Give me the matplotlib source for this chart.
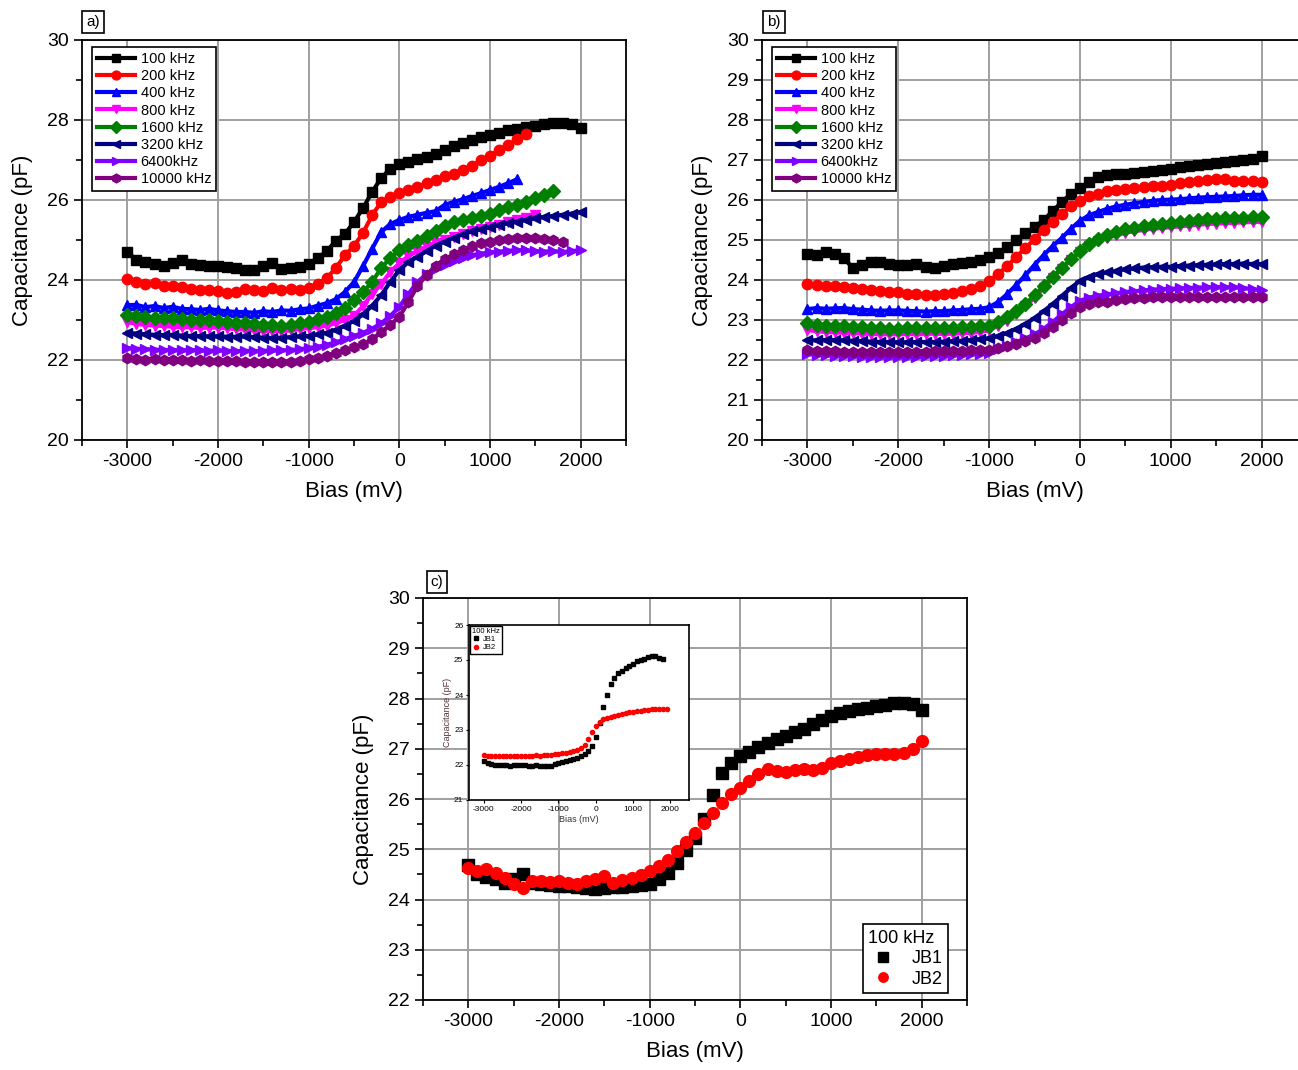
import numpy as np
import matplotlib
matplotlib.use("Agg")
import matplotlib.pyplot as plt
from matplotlib.ticker import MultipleLocator

plt.rcParams['font.family'] = ['Liberation Sans', 'DejaVu Sans']
plt.rcParams['axes.unicode_minus'] = False

# bias sweep, mV
bias = np.arange(-3000, 2001, 100)

freq_labels = ["100 kHz", "200 kHz", "400 kHz", "800 kHz",
               "1600 kHz", "3200 kHz", "6400kHz", "10000 kHz"]
colors = ["#000000", "#ff0000", "#0000ff", "#ff00ff",
          "#008000", "#000080", "#8000ff", "#800080"]
markers = ["s", "o", "^", "v", "D", "<", ">", "h"]

# ---- sample a), capacitance in pF ----
a_100 = [24.70, 24.50, 24.45, 24.40, 24.36, 24.42, 24.50, 24.40, 24.38, 24.36,
         24.36, 24.33, 24.30, 24.26, 24.24, 24.34, 24.42, 24.28, 24.30, 24.33,
         24.40, 24.55, 24.72, 24.98, 25.15, 25.45, 25.80, 26.20, 26.55, 26.78,
         26.90, 26.96, 27.02, 27.08, 27.16, 27.26, 27.34, 27.42, 27.50, 27.58,
         27.63, 27.68, 27.75, 27.78, 27.83, 27.86, 27.90, 27.92, 27.93, 27.90,
         27.80]
a_200 = [24.03, 23.95, 23.90, 23.92, 23.86, 23.85, 23.83, 23.78, 23.76, 23.74,
         23.72, 23.68, 23.70, 23.77, 23.74, 23.72, 23.81, 23.76, 23.77, 23.74,
         23.80, 23.90, 24.05, 24.30, 24.62, 24.85, 25.18, 25.62, 25.95, 26.08,
         26.17, 26.24, 26.33, 26.42, 26.50, 26.60, 26.66, 26.76, 26.85, 27.00,
         27.10, 27.25, 27.38, 27.52, 27.65]
a_400 = [23.37, 23.38, 23.32, 23.35, 23.30, 23.33, 23.28, 23.27, 23.25, 23.28,
         23.24, 23.22, 23.20, 23.20, 23.18, 23.22, 23.20, 23.24, 23.23, 23.27,
         23.29, 23.36, 23.42, 23.52, 23.70, 23.95, 24.35, 24.78, 25.20, 25.40,
         25.50, 25.58, 25.63, 25.68, 25.72, 25.88, 25.95, 26.02, 26.10, 26.17,
         26.25, 26.33, 26.42, 26.52]
a_800 = [22.95, 22.90, 22.88, 22.86, 22.85, 22.83, 22.82, 22.82, 22.80, 22.81,
         22.81, 22.79, 22.77, 22.76, 22.74, 22.72, 22.73, 22.72, 22.74, 22.77,
         22.80, 22.82, 22.86, 22.92, 23.00, 23.10, 23.35, 23.65, 23.90, 24.20,
         24.42, 24.60, 24.72, 24.82, 24.92, 25.00, 25.08, 25.16, 25.22, 25.27,
         25.32, 25.38, 25.44, 25.50, 25.56, 25.62]
a_1600 = [23.12, 23.10, 23.08, 23.06, 23.04, 23.05, 23.02, 23.00, 22.99, 23.00,
          22.98, 22.96, 22.93, 22.92, 22.90, 22.88, 22.87, 22.86, 22.88, 22.92,
          22.96, 23.02, 23.07, 23.18, 23.30, 23.50, 23.70, 23.95, 24.30, 24.55,
          24.75, 24.88, 24.98, 25.10, 25.22, 25.35, 25.45, 25.50, 25.56, 25.60,
          25.65, 25.74, 25.82, 25.88, 25.95, 26.04, 26.12, 26.22]
a_3200 = [22.68, 22.66, 22.64, 22.63, 22.62, 22.63, 22.61, 22.60, 22.60, 22.59,
          22.59, 22.58, 22.58, 22.59, 22.57, 22.56, 22.55, 22.56, 22.57, 22.59,
          22.60, 22.64, 22.68, 22.76, 22.86, 22.98, 23.14, 23.36, 23.62, 23.95,
          24.25, 24.45, 24.58, 24.72, 24.86, 24.96, 25.06, 25.14, 25.22, 25.27,
          25.32, 25.38, 25.42, 25.46, 25.50, 25.54, 25.58, 25.60, 25.63, 25.66,
          25.70]
a_6400 = [22.30, 22.28, 22.27, 22.26, 22.25, 22.25, 22.24, 22.25, 22.24, 22.23,
          22.24, 22.23, 22.22, 22.23, 22.22, 22.23, 22.24, 22.24, 22.25, 22.27,
          22.30, 22.33, 22.38, 22.44, 22.52, 22.60, 22.68, 22.78, 22.92, 23.10,
          23.33, 23.65, 23.95, 24.15, 24.28, 24.38, 24.48, 24.56, 24.62, 24.66,
          24.69, 24.71, 24.73, 24.75, 24.74, 24.72, 24.71, 24.72, 24.70, 24.72,
          24.75]
a_10000 = [22.04, 22.02, 22.01, 22.02, 22.00, 21.99, 22.00, 21.98, 21.99, 21.98,
           21.98, 21.97, 21.97, 21.96, 21.95, 21.95, 21.94, 21.95, 21.96, 21.98,
           22.02, 22.06, 22.10, 22.18, 22.24, 22.32, 22.40, 22.52, 22.70, 22.88,
           23.08, 23.45, 23.85, 24.12, 24.36, 24.52, 24.64, 24.76, 24.85, 24.92,
           24.96, 25.00, 25.02, 25.04, 25.05, 25.04, 25.03, 25.00, 24.96]

# ---- sample b) ----
b_100 = [24.66, 24.62, 24.70, 24.64, 24.55, 24.30, 24.38, 24.44, 24.46, 24.40,
         24.38, 24.37, 24.40, 24.33, 24.30, 24.34, 24.40, 24.42, 24.46, 24.50,
         24.58, 24.68, 24.82, 25.00, 25.18, 25.32, 25.50, 25.72, 25.95, 26.15,
         26.30, 26.45, 26.58, 26.62, 26.65, 26.66, 26.67, 26.70, 26.73, 26.75,
         26.78, 26.82, 26.86, 26.88, 26.90, 26.93, 26.95, 26.97, 27.00, 27.03,
         27.10]
b_200 = [23.90, 23.88, 23.86, 23.84, 23.82, 23.80, 23.78, 23.75, 23.72, 23.70,
         23.69, 23.66, 23.64, 23.63, 23.62, 23.64, 23.67, 23.72, 23.78, 23.84,
         23.98, 24.15, 24.35, 24.58, 24.80, 25.02, 25.25, 25.45, 25.65, 25.85,
         25.98, 26.10, 26.16, 26.22, 26.26, 26.28, 26.30, 26.32, 26.34, 26.36,
         26.38, 26.42, 26.45, 26.48, 26.50, 26.53, 26.52, 26.48, 26.48, 26.47,
         26.44]
b_400 = [23.27, 23.30, 23.28, 23.29, 23.30, 23.27, 23.26, 23.24, 23.23, 23.24,
         23.24, 23.23, 23.22, 23.21, 23.22, 23.22, 23.24, 23.25, 23.27, 23.28,
         23.32, 23.45, 23.65, 23.88, 24.12, 24.38, 24.62, 24.85, 25.05, 25.28,
         25.48, 25.62, 25.70, 25.78, 25.84, 25.88, 25.92, 25.95, 25.98, 26.00,
         26.01, 26.02, 26.04, 26.06, 26.07, 26.08, 26.09, 26.10, 26.12, 26.13,
         26.13]
b_800 = [22.75, 22.72, 22.70, 22.69, 22.68, 22.67, 22.66, 22.65, 22.64, 22.64,
         22.64, 22.65, 22.64, 22.65, 22.66, 22.65, 22.66, 22.67, 22.68, 22.70,
         22.74, 22.86, 22.98, 23.14, 23.34, 23.56, 23.80, 24.04, 24.28, 24.50,
         24.70, 24.86, 24.98, 25.06, 25.12, 25.18, 25.22, 25.25, 25.28, 25.30,
         25.32, 25.34, 25.36, 25.38, 25.40, 25.41, 25.42, 25.43, 25.44, 25.45,
         25.45]
b_1600 = [22.92, 22.88, 22.86, 22.85, 22.84, 22.83, 22.82, 22.80, 22.79, 22.78,
          22.78, 22.79, 22.80, 22.79, 22.80, 22.79, 22.80, 22.82, 22.83, 22.84,
          22.86, 22.95, 23.08, 23.22, 23.40, 23.62, 23.85, 24.08, 24.30, 24.52,
          24.72, 24.90, 25.02, 25.12, 25.20, 25.27, 25.31, 25.34, 25.38, 25.40,
          25.42, 25.44, 25.47, 25.50, 25.52, 25.53, 25.55, 25.55, 25.56, 25.57,
          25.57]
b_3200 = [22.50, 22.49, 22.50, 22.50, 22.49, 22.48, 22.47, 22.46, 22.45, 22.45,
          22.44, 22.44, 22.45, 22.45, 22.45, 22.46, 22.47, 22.48, 22.50, 22.52,
          22.54, 22.60, 22.68, 22.78, 22.90, 23.05, 23.22, 23.40, 23.60, 23.80,
          23.98, 24.08, 24.15, 24.19, 24.23, 24.27, 24.29, 24.31, 24.32, 24.33,
          24.33, 24.35, 24.36, 24.37, 24.38, 24.39, 24.40, 24.40, 24.41, 24.40,
          24.40]
b_6400 = [22.15, 22.13, 22.12, 22.11, 22.10, 22.09, 22.08, 22.08, 22.07, 22.07,
          22.07, 22.08, 22.08, 22.09, 22.10, 22.11, 22.12, 22.13, 22.14, 22.15,
          22.18, 22.28, 22.36, 22.45, 22.54, 22.64, 22.78, 22.95, 23.14, 23.32,
          23.48, 23.56, 23.61, 23.64, 23.67, 23.70, 23.72, 23.74, 23.76, 23.77,
          23.78, 23.79, 23.80, 23.81, 23.82, 23.82, 23.82, 23.82, 23.80, 23.77,
          23.74]
b_10000 = [22.24, 22.23, 22.22, 22.22, 22.21, 22.21, 22.20, 22.20, 22.20, 22.20,
           22.20, 22.20, 22.21, 22.21, 22.22, 22.22, 22.23, 22.23, 22.24, 22.24,
           22.25, 22.30, 22.34, 22.40, 22.47, 22.56, 22.68, 22.82, 23.00, 23.18,
           23.32, 23.40, 23.44, 23.46, 23.50, 23.53, 23.55, 23.56, 23.57, 23.57,
           23.57, 23.57, 23.58, 23.58, 23.58, 23.58, 23.58, 23.57, 23.57, 23.57,
           23.57]

# ---- c) JB1 vs JB2 at 100 kHz ----
c_jb1 = [24.68, 24.50, 24.45, 24.40, 24.33, 24.40, 24.50, 24.32, 24.30, 24.28,
         24.27, 24.26, 24.24, 24.22, 24.20, 24.22, 24.24, 24.24, 24.26, 24.28,
         24.30, 24.40, 24.52, 24.72, 24.98, 25.22, 25.60, 26.08, 26.52, 26.72,
         26.86, 26.94, 27.04, 27.12, 27.20, 27.26, 27.33, 27.40, 27.50, 27.58,
         27.66, 27.72, 27.76, 27.79, 27.82, 27.85, 27.88, 27.91, 27.92, 27.90,
         27.78]
c_jb2 = [24.63, 24.57, 24.60, 24.52, 24.43, 24.30, 24.22, 24.37, 24.37, 24.35,
         24.37, 24.33, 24.30, 24.36, 24.40, 24.46, 24.33, 24.38, 24.42, 24.48,
         24.57, 24.66, 24.78, 24.96, 25.15, 25.32, 25.52, 25.72, 25.92, 26.10,
         26.22, 26.36, 26.50, 26.60, 26.56, 26.53, 26.58, 26.60, 26.57, 26.62,
         26.72, 26.76, 26.80, 26.84, 26.88, 26.90, 26.89, 26.90, 26.92, 27.00,
         27.15]

# inset of c)
in_jb1 = [22.10, 22.05, 22.02, 22.00, 21.99, 22.00, 21.99, 21.98, 22.00, 21.99,
          22.00, 21.99, 21.98, 21.98, 21.99, 21.98, 21.97, 21.96, 21.98, 22.02,
          22.06, 22.08, 22.10, 22.13, 22.16, 22.20, 22.25, 22.32, 22.40, 22.55,
          22.80, 23.20, 23.65, 24.00, 24.30, 24.50, 24.62, 24.70, 24.76, 24.84,
          24.90, 24.96, 25.00, 25.04, 25.08, 25.12, 25.10, 25.06, 25.03]
in_jb2 = [22.28, 22.26, 22.25, 22.27, 22.26, 22.25, 22.26, 22.27, 22.25, 22.26,
          22.25, 22.27, 22.26, 22.27, 22.28, 22.27, 22.28, 22.29, 22.29, 22.30,
          22.31, 22.33, 22.35, 22.37, 22.39, 22.42, 22.48, 22.56, 22.75, 22.95,
          23.12, 23.22, 23.30, 23.34, 23.37, 23.40, 23.43, 23.46, 23.48, 23.50,
          23.52, 23.54, 23.55, 23.56, 23.58, 23.59, 23.60, 23.60, 23.60, 23.60]

W, H = 1298, 1070


def px_axes(fig, left, top, right, bottom):
    return fig.add_axes([left / W, 1 - bottom / H, (right - left) / W, (bottom - top) / H])


def style_axes(ax, ylim, ymajor, yminor):
    ax.set_xlim(-3500, 2500)
    ax.set_ylim(*ylim)
    ax.xaxis.set_major_locator(MultipleLocator(1000))
    ax.xaxis.set_minor_locator(MultipleLocator(500))
    ax.yaxis.set_major_locator(MultipleLocator(ymajor))
    ax.yaxis.set_minor_locator(MultipleLocator(yminor))
    ax.grid(True, which='major', color='#a0a0a0', lw=1.4)
    ax.set_axisbelow(True)
    ax.tick_params(which='major', direction='out', length=6, width=1.2, labelsize=14)
    ax.tick_params(which='minor', direction='out', length=4, width=1.2)
    for s in ax.spines.values():
        s.set_linewidth(1.3)
    ax.set_xlabel("Bias (mV)", fontsize=16, labelpad=8)
    ax.set_ylabel("Capacitance (pF)", fontsize=16, labelpad=10)


def freq_panel(ax, series, ylim, ymajor, yminor):
    for y, lab, c, m in zip(series, freq_labels, colors, markers):
        ax.plot(bias[:len(y)], y, color=c, marker=m, ms=7.5, mec=c, lw=3, label=lab)
    style_axes(ax, ylim, ymajor, yminor)
    leg = ax.legend(loc='upper left', bbox_to_anchor=(0.018, 0.983), borderaxespad=0,
                    fontsize=10.5, frameon=True, fancybox=False, edgecolor='black',
                    framealpha=1, borderpad=0.35, labelspacing=0.22,
                    handlelength=2.6, handletextpad=0.4, markerscale=0.85)
    leg.get_frame().set_linewidth(1.2)


def panel_tag(fig, x, y, text):
    fig.text(x / W, 1 - y / H, text, fontsize=11, ha='center', va='center',
             bbox=dict(boxstyle='square,pad=0.25', fc='white', ec='black', lw=1.2))


fig = plt.figure(figsize=(W / 100, H / 100), dpi=100)

ax_a = px_axes(fig, 82, 40, 626, 440)
freq_panel(ax_a, [a_100, a_200, a_400, a_800, a_1600, a_3200, a_6400, a_10000],
           (20, 30), 2, 1)
panel_tag(fig, 93, 22, "a)")

ax_b = px_axes(fig, 762, 40, 1307, 440)
freq_panel(ax_b, [b_100, b_200, b_400, b_800, b_1600, b_3200, b_6400, b_10000],
           (20, 30), 1, 0.5)
panel_tag(fig, 774, 22, "b)")

ax_c = px_axes(fig, 423, 598, 967, 1000)
ax_c.plot(bias, c_jb1, 's', color='black', ms=8.5, label="JB1")
ax_c.plot(bias, c_jb2, 'o', color='red', ms=8.5, label="JB2")
style_axes(ax_c, (22, 30), 1, 0.5)
leg = ax_c.legend(title="100 kHz", loc='lower right', bbox_to_anchor=(0.965, 0.017),
                  borderaxespad=0, fontsize=13, title_fontsize=13, frameon=True,
                  fancybox=False, edgecolor='black', framealpha=1, borderpad=0.3,
                  labelspacing=0.2, handlelength=1.6, handletextpad=0.8,
                  markerscale=0.8, alignment='left')
leg.get_frame().set_linewidth(1.2)
panel_tag(fig, 437, 582, "c)")

# inset: same pair, separate measurement
ax_in = px_axes(fig, 469, 625, 689, 800)
ax_in.plot(bias[:len(in_jb1)], in_jb1, 's', color='black', ms=3.5)
ax_in.plot(bias[:len(in_jb2)], in_jb2, 'o', color='red', ms=3)
ax_in.set_xlim(-3400, 2500)
ax_in.set_ylim(21, 26)
ax_in.xaxis.set_major_locator(MultipleLocator(1000))
ax_in.yaxis.set_major_locator(MultipleLocator(1))
ax_in.tick_params(direction='out', length=2.5, width=0.8, labelsize=6, pad=1.5)
for s in ax_in.spines.values():
    s.set_linewidth(1.2)
ax_in.set_xlabel("Bias (mV)", fontsize=6.5, labelpad=1.5, color='#333333')
ax_in.set_ylabel("Capacitance (pF)", fontsize=6.5, labelpad=1.5, color='#553333')
ax_in.plot([], [], 's', color='black', ms=3.5, label="JB1")
ax_in.plot([], [], 'o', color='red', ms=3, label="JB2")
leg_in = ax_in.legend(title="100 kHz", loc='upper left', borderaxespad=0.1,
                      fontsize=5.5, title_fontsize=5.5, frameon=True, fancybox=False,
                      edgecolor='black', framealpha=1, borderpad=0.3,
                      labelspacing=0.1, handlelength=1.0, handletextpad=0.4,
                      alignment='left')
leg_in.get_frame().set_linewidth(1.0)

fig.savefig("out.png", dpi=100)
